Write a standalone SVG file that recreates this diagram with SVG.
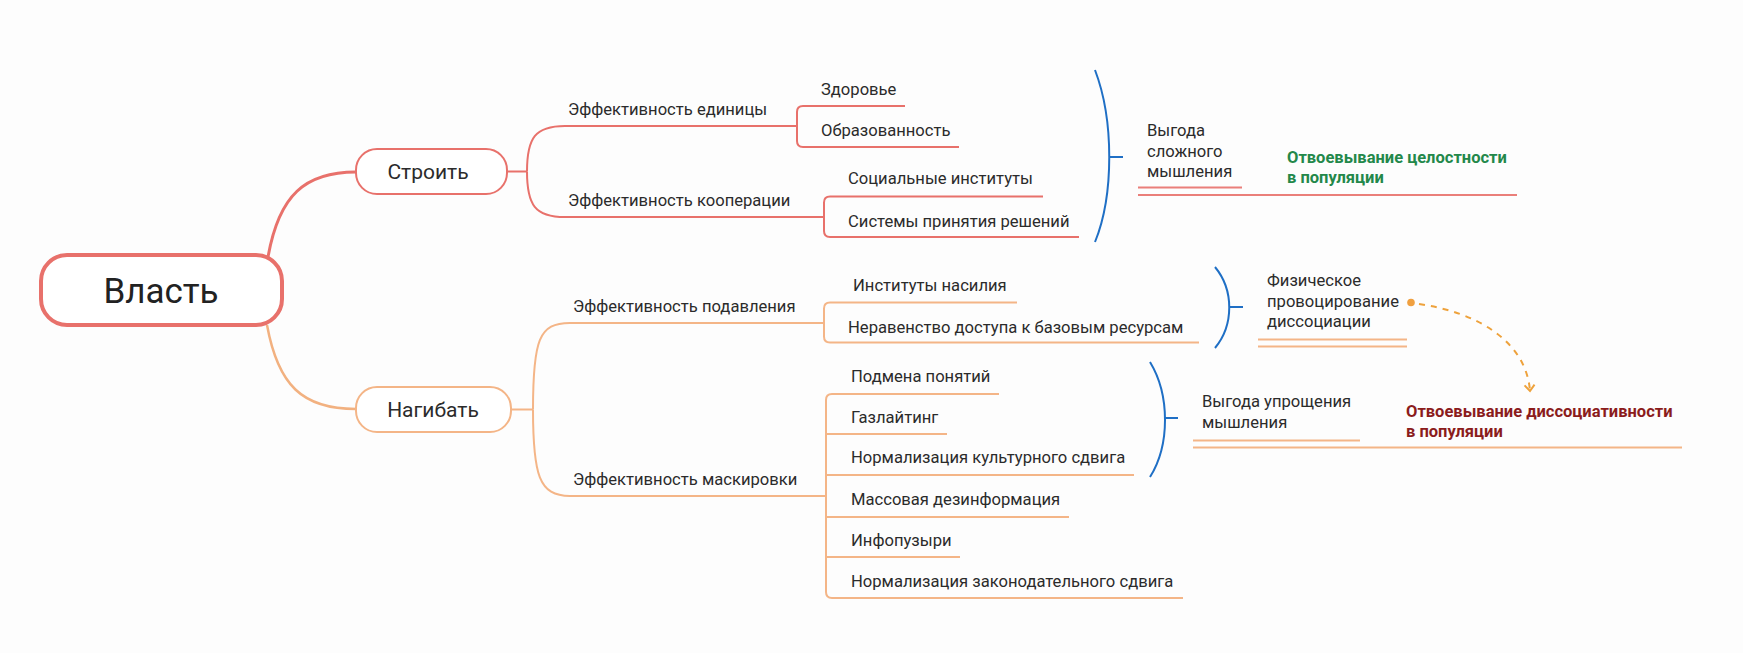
<svg xmlns="http://www.w3.org/2000/svg" width="1743" height="653" viewBox="0 0 1743 653">
<defs>
<style>
text{font-family:Roboto,"Liberation Sans",sans-serif;fill:#2b2b2b;font-size:16.6px}
.root{font-size:35px;fill:#222}
.main{font-size:21px}
.green{font-weight:bold;font-size:16.5px;fill:#23884a}
.dred{font-weight:bold;font-size:16.5px;fill:#8b1c1c}
.r{stroke:#e8716b;fill:none;stroke-width:2}
.o{stroke:#f4b587;fill:none;stroke-width:2}
.b{stroke:#1f6fc5;fill:none;stroke-width:2}
</style>
<marker id="arr" markerUnits="userSpaceOnUse" markerWidth="14" markerHeight="14" refX="7" refY="7" orient="auto">
<path d="M1,2 L7,7 L1,12" fill="none" stroke="#eea23c" stroke-width="2"/>
</marker>
</defs>
<rect width="1743" height="653" fill="#fdfdfd"/>

<g id="connectors">
<path d="M268,257 C279,195 305,172 356,172" stroke="#e8716b" stroke-width="3" fill="none"/>
<path d="M267,325 C278,385 302,409 356,409" stroke="#f2b180" stroke-width="2.5" fill="none"/>
<path class="r" d="M507,171.5 H527"/>
<path class="r" d="M527,171.5 C527,138 535,126 565,126 H797"/>
<path class="r" d="M527,171.5 C527,205 535,217 565,217 H824"/>
<path class="r" d="M905,106 H803 Q797,106 797,112 V141 Q797,147 803,147 H959"/>
<path class="r" d="M1043,196.5 H830 Q824,196.5 824,202.5 V231 Q824,237 830,237 H1079"/>
<path class="o" d="M511,409.5 H533"/>
<path class="o" d="M533,409.5 C533,340 539,323 570,323 H824"/>
<path class="o" d="M533,409.5 C533,475 539,496 570,496 H826"/>
<path class="o" d="M1017,302.5 H830 Q824,302.5 824,308.5 V336.5 Q824,342.5 830,342.5 H1199"/>
<path class="o" d="M999,394 H832 Q826,394 826,400 V592 Q826,598 832,598 H1183"/>
<path class="o" d="M826,434 H947"/>
<path class="o" d="M826,475 H1134"/>
<path class="o" d="M826,517 H1069"/>
<path class="o" d="M826,557 H960"/>
<path class="b" d="M1095,70 C1114,120 1114,195 1095,242"/>
<path class="b" d="M1110,157 H1123"/>
<path class="b" d="M1215,267 C1234,290 1234,325 1215,348"/>
<path class="b" d="M1229,307 H1243"/>
<path class="b" d="M1150,362 C1170,395 1170,445 1150,477"/>
<path class="b" d="M1165,418 H1178"/>
<path d="M1138,187.5 H1242 M1138,195 H1517" stroke="#ea7f7a" stroke-width="2" fill="none"/>
<path class="o" d="M1258,339.5 H1407 M1258,346.5 H1407"/>
<path class="o" d="M1193,440.5 H1360 M1193,447.5 H1682"/>
<circle cx="1411" cy="302.5" r="3.8" fill="#f0a040"/>
<path d="M1419,304 C1475,312 1526,340 1530,391" stroke="#eea23c" stroke-width="2" fill="none" stroke-dasharray="6 6" marker-end="url(#arr)"/>
</g>

<g id="n-root">
<rect x="41" y="255" width="241" height="70" rx="26" fill="#fff" stroke="#e8716b" stroke-width="4"/>
<text class="root" x="161" y="303" text-anchor="middle">Власть</text>
</g>
<g id="n-build">
<rect x="356" y="149" width="151" height="45" rx="21" fill="#fff" stroke="#e8716b" stroke-width="2"/>
<text class="main" x="428" y="179" text-anchor="middle">Строить</text>
</g>
<g id="n-bend">
<rect x="356" y="387" width="155" height="45" rx="21" fill="#fff" stroke="#f4b587" stroke-width="2"/>
<text class="main" x="433" y="417" text-anchor="middle">Нагибать</text>
</g>
<g id="n-unit"><text x="568" y="115">Эффективность единицы</text></g>
<g id="n-health"><text x="821" y="95">Здоровье</text></g>
<g id="n-edu"><text x="821" y="136">Образованность</text></g>
<g id="n-coop"><text x="568" y="206">Эффективность кооперации</text></g>
<g id="n-social"><text x="848" y="184">Социальные институты</text></g>
<g id="n-decision"><text x="848" y="227">Системы принятия решений</text></g>
<g id="n-suppress"><text x="573" y="312">Эффективность подавления</text></g>
<g id="n-violence"><text x="853" y="291">Институты насилия</text></g>
<g id="n-inequality"><text x="848" y="333">Неравенство доступа к базовым ресурсам</text></g>
<g id="n-mask"><text x="573" y="485">Эффективность маскировки</text></g>
<g id="n-subst"><text x="851" y="382">Подмена понятий</text></g>
<g id="n-gaslight"><text x="851" y="423">Газлайтинг</text></g>
<g id="n-cult"><text x="851" y="463">Нормализация культурного сдвига</text></g>
<g id="n-disinfo"><text x="851" y="505">Массовая дезинформация</text></g>
<g id="n-bubbles"><text x="851" y="546">Инфопузыри</text></g>
<g id="n-law"><text x="851" y="587">Нормализация законодательного сдвига</text></g>
<g id="n-complex">
<text x="1147" y="136">Выгода</text>
<text x="1147" y="157">сложного</text>
<text x="1147" y="177">мышления</text>
</g>
<g id="n-integrity">
<text class="green" x="1287" y="163">Отвоевывание целостности</text>
<text class="green" x="1287" y="183">в популяции</text>
</g>
<g id="n-physical">
<text x="1267" y="286">Физическое</text>
<text x="1267" y="307">провоцирование</text>
<text x="1267" y="327">диссоциации</text>
</g>
<g id="n-simple">
<text x="1202" y="407">Выгода упрощения</text>
<text x="1202" y="428">мышления</text>
</g>
<g id="n-dissoc">
<text class="dred" x="1406" y="417">Отвоевывание диссоциативности</text>
<text class="dred" x="1406" y="437">в популяции</text>
</g>
</svg>
